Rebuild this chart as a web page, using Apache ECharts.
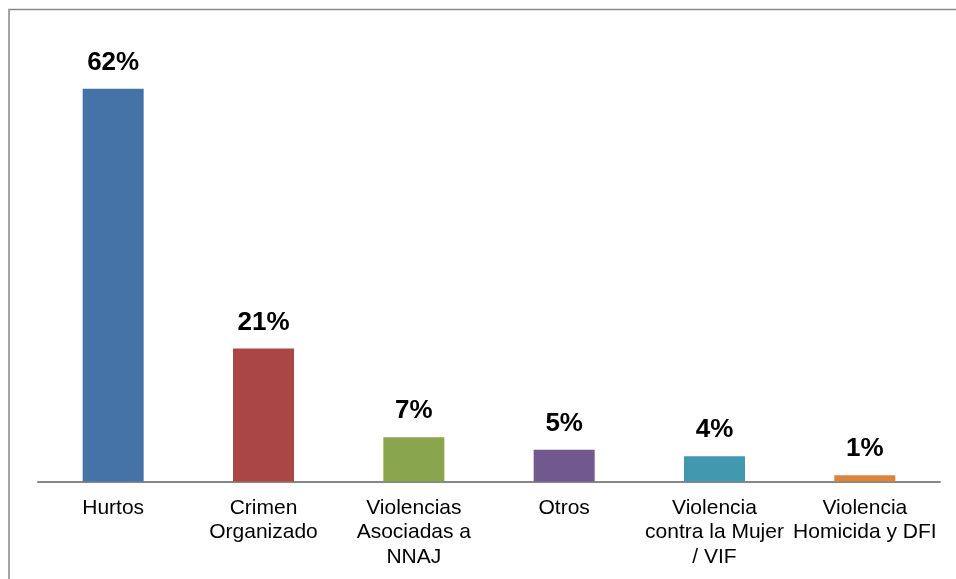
<!DOCTYPE html>
<html>
<head>
<meta charset="utf-8">
<script src="https://cdn.jsdelivr.net/npm/echarts@6/dist/echarts.min.js"></script>
<style>
  html, body { margin: 0; padding: 0; background: #fff; }
  #chart { width: 956px; height: 579px; }
</style>
</head>
<body>
<div id="chart"></div>
<script>
// ---- datos ----
var categorias = [
  "Hurtos",
  "Crimen\nOrganizado",
  "Violencias\nAsociadas a\nNNAJ",
  "Otros",
  "Violencia\ncontra la Mujer\n/ VIF",
  "Violencia\nHomicida y DFI"
];
var porcentajes = [62, 21, 7, 5, 4, 1];

// colores de barra (paleta Excel)
var COLORES = ["#4572A7", "#AA4643", "#89A54E", "#71588F", "#4198AF", "#DB843D"];

var chart = echarts.init(document.getElementById("chart"));

chart.setOption({
  animation: false,
  // marco gris (solo se ven los bordes superior e izquierdo)
  graphic: [{
    type: "rect",
    shape: { x: 9, y: 9.5, width: 1200, height: 1200 },
    style: { fill: "none", stroke: "#888888", lineWidth: 1.5 },
    silent: true
  }],
  grid: { left: 38, right: 16, top: 38, bottom: 97.5 },
  xAxis: {
    type: "category",
    data: categorias,
    axisLine: { lineStyle: { color: "#868686", width: 2 } },
    axisTick: { show: false },
    axisLabel: {
      interval: 0,
      margin: 14,
      color: "#000",
      fontFamily: "Liberation Sans, Arial, sans-serif",
      fontSize: 21,
      lineHeight: 24.5
    }
  },
  yAxis: {
    type: "value",
    min: 0,
    max: 70,
    show: false,
    splitLine: { show: false }
  },
  series: [{
    type: "bar",
    barWidth: 61,
    data: porcentajes.map(function(v, i) {
      return { value: v, itemStyle: { color: COLORES[i] } };
    }),
    label: {
      show: true,
      position: "top",
      distance: 13,
      color: "#000",
      fontFamily: "Liberation Sans, Arial, sans-serif",
      fontWeight: "bold",
      fontSize: 26,
      formatter: function(p) { return p.value + "%"; }
    }
  }]
});
</script>
</body>
</html>
